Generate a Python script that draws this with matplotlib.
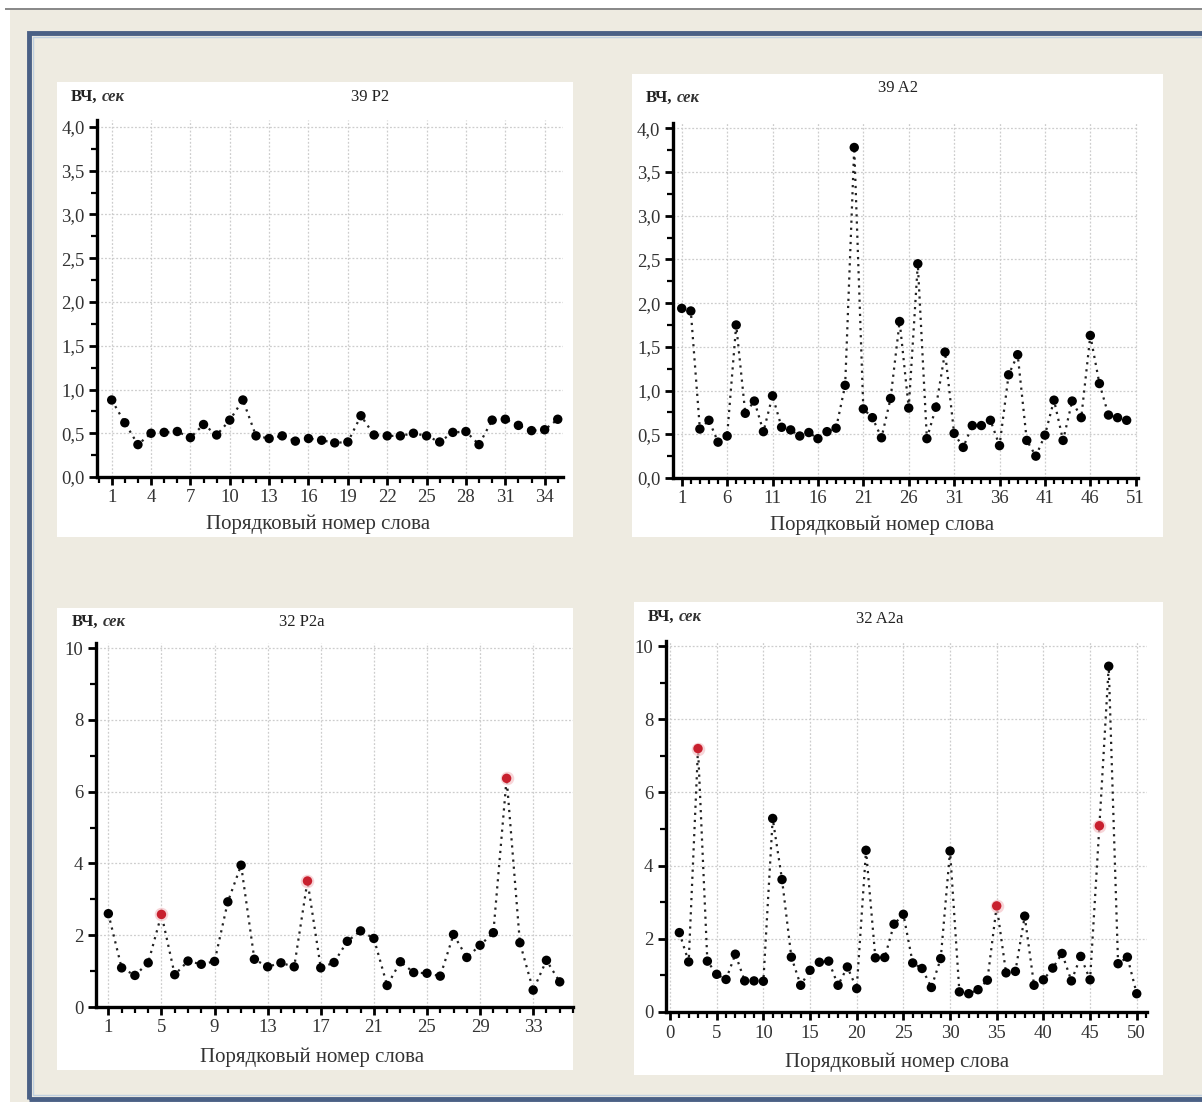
import numpy as np
import matplotlib
matplotlib.use("Agg")
import matplotlib.pyplot as plt
from matplotlib.patches import Rectangle
from matplotlib.ticker import MultipleLocator, FuncFormatter

# ---------------- data ----------------
p1_title = "39 P2"
p1_vals = [0.88, 0.62, 0.37, 0.50, 0.51, 0.52, 0.45, 0.60, 0.48, 0.65,
           0.88, 0.47, 0.44, 0.47, 0.41, 0.44, 0.42, 0.39, 0.40, 0.70,
           0.48, 0.47, 0.47, 0.50, 0.47, 0.40, 0.51, 0.52, 0.37, 0.65,
           0.66, 0.59, 0.53, 0.54, 0.66]
p1_red = []

p2_title = "39 A2"
p2_vals = [1.94, 1.91, 0.56, 0.66, 0.41, 0.48, 1.75, 0.74, 0.88, 0.53,
           0.94, 0.58, 0.55, 0.48, 0.52, 0.45, 0.53, 0.57, 1.06, 3.78,
           0.79, 0.69, 0.46, 0.91, 1.79, 0.80, 2.45, 0.45, 0.81, 1.44,
           0.51, 0.35, 0.60, 0.60, 0.66, 0.37, 1.18, 1.41, 0.43, 0.25,
           0.49, 0.89, 0.43, 0.88, 0.69, 1.63, 1.08, 0.72, 0.69, 0.66]
p2_red = []

p3_title = "32 P2a"
p3_vals = [2.60, 1.09, 0.88, 1.23, 2.58, 0.90, 1.28, 1.19, 1.27, 2.93,
           3.95, 1.33, 1.12, 1.23, 1.12, 3.51, 1.09, 1.24, 1.83, 2.12,
           1.91, 0.60, 1.26, 0.96, 0.94, 0.86, 2.02, 1.38, 1.72, 2.07,
           6.37, 1.79, 0.47, 1.30, 0.70]
p3_red = [5, 16, 31]

p4_title = "32 A2a"
p4_vals = [2.17, 1.37, 7.20, 1.39, 1.03, 0.89, 1.58, 0.85, 0.85, 0.84,
           5.29, 3.62, 1.50, 0.73, 1.14, 1.36, 1.39, 0.73, 1.23, 0.64,
           4.42, 1.48, 1.49, 2.40, 2.67, 1.34, 1.19, 0.67, 1.46, 4.40,
           0.55, 0.50, 0.61, 0.87, 2.90, 1.07, 1.11, 2.62, 0.73, 0.88,
           1.20, 1.60, 0.85, 1.52, 0.88, 5.09, 9.45, 1.32, 1.50, 0.50]
p4_red = [3, 35, 46]

x_label = "Порядковый номер слова"
y_label_bold = "ВЧ,"
y_label_ital = "сек"

# ---------------- layout ----------------
W, H = 1202, 1102
fig = plt.figure(figsize=(W / 100, H / 100), dpi=100)
fig.patch.set_facecolor("white")
SERIF = ["Liberation Serif", "DejaVu Serif"]
BEIGE = "#EEEBE1"
TXT = "#333333"


def frac_rect(x0, y0, x1, y1):
    return (x0 / W, 1 - y1 / H, (x1 - x0) / W, (y1 - y0) / H)


def add_rect(x0, y0, x1, y1, **kw):
    l, b, w, h = frac_rect(x0, y0, x1, y1)
    fig.patches.append(Rectangle((l, b), w, h, transform=fig.transFigure, **kw))


# background pieces
add_rect(10, 10, W + 5, H + 5, facecolor=BEIGE, edgecolor="none", zorder=0)
add_rect(5, 8, W + 5, 10, facecolor="#8A8A8A", edgecolor="none", zorder=1)
# blue frame
add_rect(29, 33, W + 20, 1099, facecolor="none", edgecolor="#4A6085",
         linewidth=3.5, zorder=1)
add_rect(33, 37, W + 20, 1095, facecolor="none", edgecolor="#BFD0E0",
         linewidth=1.0, zorder=1)

panels = [
    dict(vals=p1_vals, red=p1_red, title=p1_title, box=(57, 82, 573, 537),
         ax=(97, 120, 563, 477), xlim=(-0.12, 35.4), ylim=(0, 4.08),
         xmaj=3, xstart=1, xmin=1, ymaj=0.5, ymin=0.25, dec=True,
         ylab=(71, 97), ttl=(370, 97), xl=(318, 524)),
    dict(vals=p2_vals, red=p2_red, title=p2_title, box=(632, 74, 1163, 537),
         ax=(673, 123, 1138, 478), xlim=(0.04, 51.25), ylim=(0, 4.06),
         xmaj=5, xstart=1, xmin=1, ymaj=0.5, ymin=0.25, dec=True,
         ylab=(646, 98), ttl=(898, 88), xl=(882, 525)),
    dict(vals=p3_vals, red=p3_red, title=p3_title, box=(57, 608, 573, 1070),
         ax=(96, 643, 573, 1007), xlim=(0.07, 36.0), ylim=(0, 10.14),
         xmaj=4, xstart=1, xmin=1, ymaj=2, ymin=1, dec=False,
         ylab=(72, 622), ttl=(302, 622), xl=(312, 1057)),
    dict(vals=p4_vals, red=p4_red, title=p4_title, box=(634, 602, 1163, 1075),
         ax=(666, 641, 1147, 1012), xlim=(-0.43, 51.1), ylim=(0, 10.14),
         xmaj=5, xstart=0, xmin=1, ymaj=2, ymin=1, dec=False,
         ylab=(648, 617), ttl=(880, 619), xl=(897, 1062)),
]

for p in panels:
    add_rect(*p["box"], facecolor="white", edgecolor="none", zorder=2)

renderer = fig.canvas.get_renderer()

for p in panels:
    x0, y0, x1, y1 = p["ax"]
    ax = fig.add_axes(frac_rect(x0, y0, x1, y1))
    ax.set_zorder(3)
    ax.patch.set_alpha(0)
    vals = np.array(p["vals"])
    xs = np.arange(1, len(vals) + 1)
    ax.plot(xs, vals, linestyle=(0, (1, 2.2)), color="#222222", lw=1.6,
            zorder=3)
    red_idx = [r - 1 for r in p["red"]]
    colors = ["#C8202E" if i in red_idx else "black" for i in range(len(vals))]
    if red_idx:
        ax.scatter(xs[red_idx], vals[red_idx], s=95, c="#F4C4C8", alpha=0.7,
                   zorder=3.5, linewidths=0)
    ax.scatter(xs, vals, s=46, c=colors, zorder=4, linewidths=0)
    ax.set_xlim(*p["xlim"])
    ax.set_ylim(*p["ylim"])
    ax.set_xticks(np.arange(p["xstart"], p["xlim"][1] + 0.01, p["xmaj"]))
    ax.xaxis.set_minor_locator(MultipleLocator(p["xmin"]))
    ax.yaxis.set_major_locator(MultipleLocator(p["ymaj"]))
    ax.yaxis.set_minor_locator(MultipleLocator(p["ymin"]))
    if p["dec"]:
        ax.yaxis.set_major_formatter(
            FuncFormatter(lambda v, pos: f"{v:.1f}".replace(".", ",")))
    else:
        ax.yaxis.set_major_formatter(FuncFormatter(lambda v, pos: f"{v:.0f}"))
    ax.grid(True, which="major", linestyle=(0, (1.5, 1.5)), color="#CDCDCD",
            lw=0.9, zorder=1)
    for s in ("top", "right"):
        ax.spines[s].set_visible(False)
    for s in ("left", "bottom"):
        ax.spines[s].set_linewidth(2.4)
        ax.spines[s].set_color("black")
    ax.tick_params(which="major", direction="out", length=6, width=2,
                   color="black", labelsize=13.5, labelcolor=TXT, pad=3)
    ax.tick_params(which="minor", direction="out", length=4, width=1.6,
                   color="black")
    for lab in ax.get_xticklabels() + ax.get_yticklabels():
        lab.set_family(SERIF)

    # texts
    lx, ly = p["ylab"]
    tb = fig.text(lx / W, 1 - ly / H, y_label_bold, family=SERIF, fontsize=12,
                  fontweight="bold", color="#222222", ha="left", va="center",
                  zorder=5)
    bb = tb.get_window_extent(renderer)
    fig.text((bb.x1 + 4) / W, 1 - ly / H, y_label_ital, family=SERIF,
             fontsize=12, fontstyle="italic", fontweight="bold",
             color="#333333", ha="left", va="center", zorder=5)
    tx, ty = p["ttl"]
    fig.text(tx / W, 1 - ty / H, p["title"], family=SERIF, fontsize=12,
             color="#222222", ha="center", va="center", zorder=5)
    xx, xy = p["xl"]
    fig.text(xx / W, 1 - xy / H, x_label, family=SERIF, fontsize=15,
             color=TXT, ha="center", va="center", zorder=5)

fig.savefig("out.png", dpi=100, facecolor=fig.get_facecolor())
